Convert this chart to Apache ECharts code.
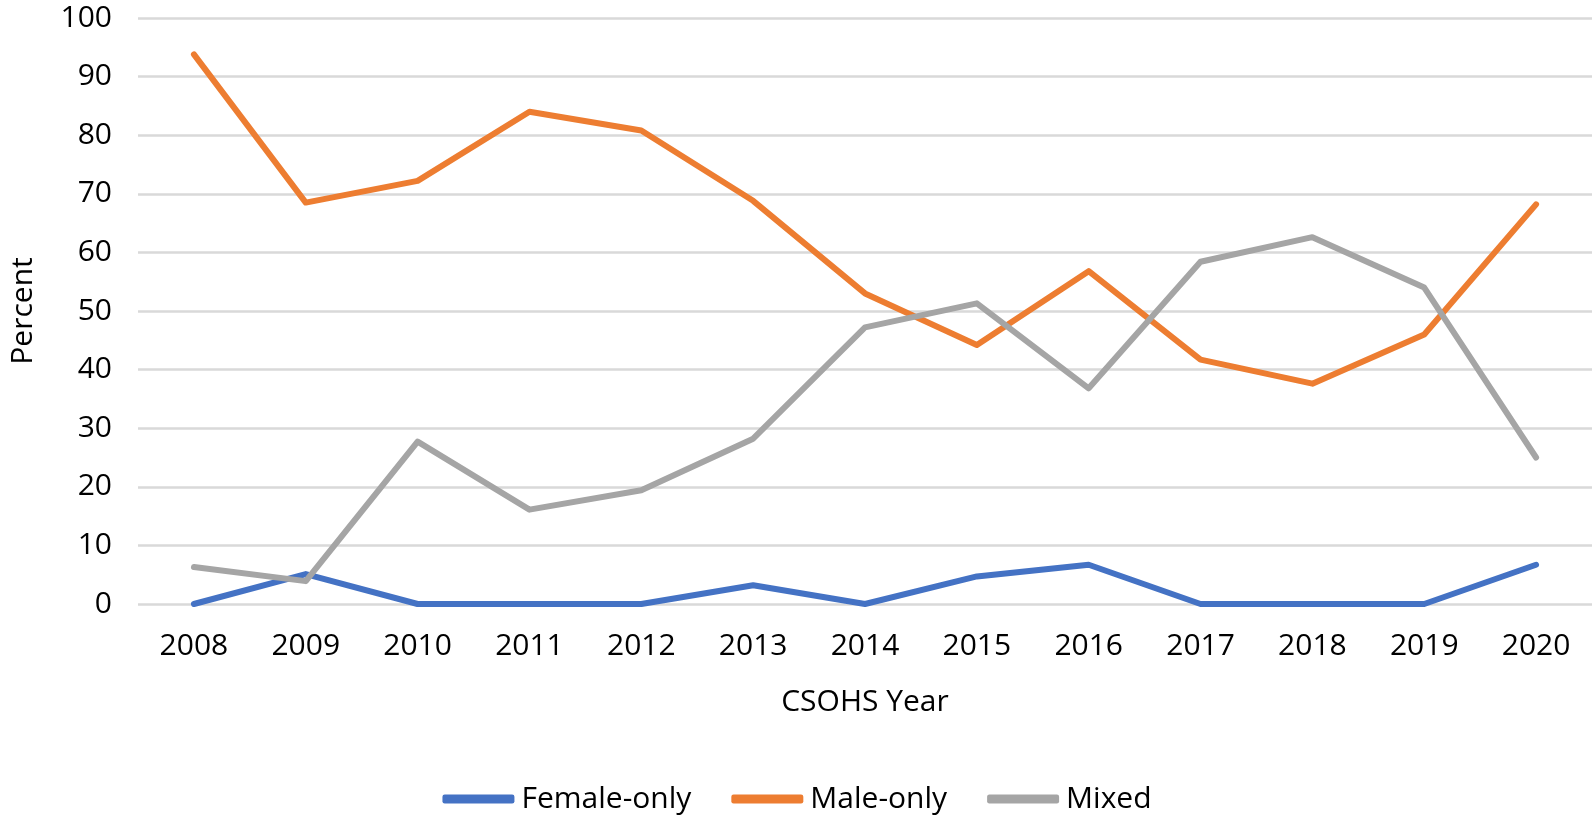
<!DOCTYPE html>
<html>
<head>
<meta charset="utf-8">
<script src="https://cdn.jsdelivr.net/npm/echarts@6/dist/echarts.min.js"></script>
<style>
html,body{margin:0;padding:0;background:#fff;}
#chart{width:1594px;height:821px;}
</style>
</head>
<body>
<div id="chart"></div>
<script>
const years = ['2008','2009','2010','2011','2012','2013','2014','2015','2016','2017','2018','2019','2020'];
const femaleOnly = [0, 5.1, 0, 0, 0, 3.2, 0, 4.7, 6.7, 0, 0, 0, 6.7];
const maleOnly = [93.8, 68.5, 72.2, 84.0, 80.8, 68.8, 53.0, 44.2, 56.8, 41.7, 37.6, 46.0, 68.2];
const mixed = [6.3, 3.9, 27.7, 16.1, 19.4, 28.2, 47.2, 51.3, 36.8, 58.4, 62.6, 54.0, 25.0];
const seriesNames = ['Female-only', 'Male-only', 'Mixed'];
const colors = ['#4472C4', '#ED7D31', '#A5A5A5'];

const FONT = 'Open Sans';
const FS = 30;
const chart = echarts.init(document.getElementById('chart'));
const mk = (name, data, color) => ({
  name, type: 'line', data, showSymbol: false, symbol: 'none',
  lineStyle: { color, width: 6, cap: 'round', join: 'round' },
  itemStyle: { color },
  emphasis: { disabled: true }
});
chart.setOption({
  animation: false,
  color: colors,
  grid: { left: 133, right: 2, top: 18, bottom: 217 },
  legend: {
    bottom: 2, left: 'center',
    icon: 'roundRect', itemWidth: 72, itemHeight: 9, itemGap: 40,
    textStyle: { fontFamily: FONT, fontSize: FS, color: '#000', padding: [0, 0, 0, 2] },
    data: seriesNames
  },
  xAxis: {
    type: 'category', data: years, boundaryGap: true,
    axisLine: { show: false }, axisTick: { show: false },
    axisLabel: { fontFamily: FONT, fontSize: FS, color: '#000', margin: 27 },
    name: 'CSOHS Year', nameLocation: 'middle', nameGap: 83,
    nameTextStyle: { fontFamily: FONT, fontSize: FS, color: '#000' }
  },
  yAxis: {
    type: 'value', min: 0, max: 100, interval: 10,
    axisLine: { show: false }, axisTick: { show: false },
    axisLabel: { fontFamily: FONT, fontSize: FS, color: '#000', margin: 26 },
    splitLine: { lineStyle: { color: '#D9D9D9', width: 2.5 } },
    name: 'Percent', nameLocation: 'middle', nameGap: 100, nameRotate: 90,
    nameTextStyle: { fontFamily: FONT, fontSize: FS, color: '#000' }
  },
  series: [
    mk(seriesNames[0], femaleOnly, colors[0]),
    mk(seriesNames[1], maleOnly, colors[1]),
    mk(seriesNames[2], mixed, colors[2])
  ]
});
</script>
</body>
</html>
